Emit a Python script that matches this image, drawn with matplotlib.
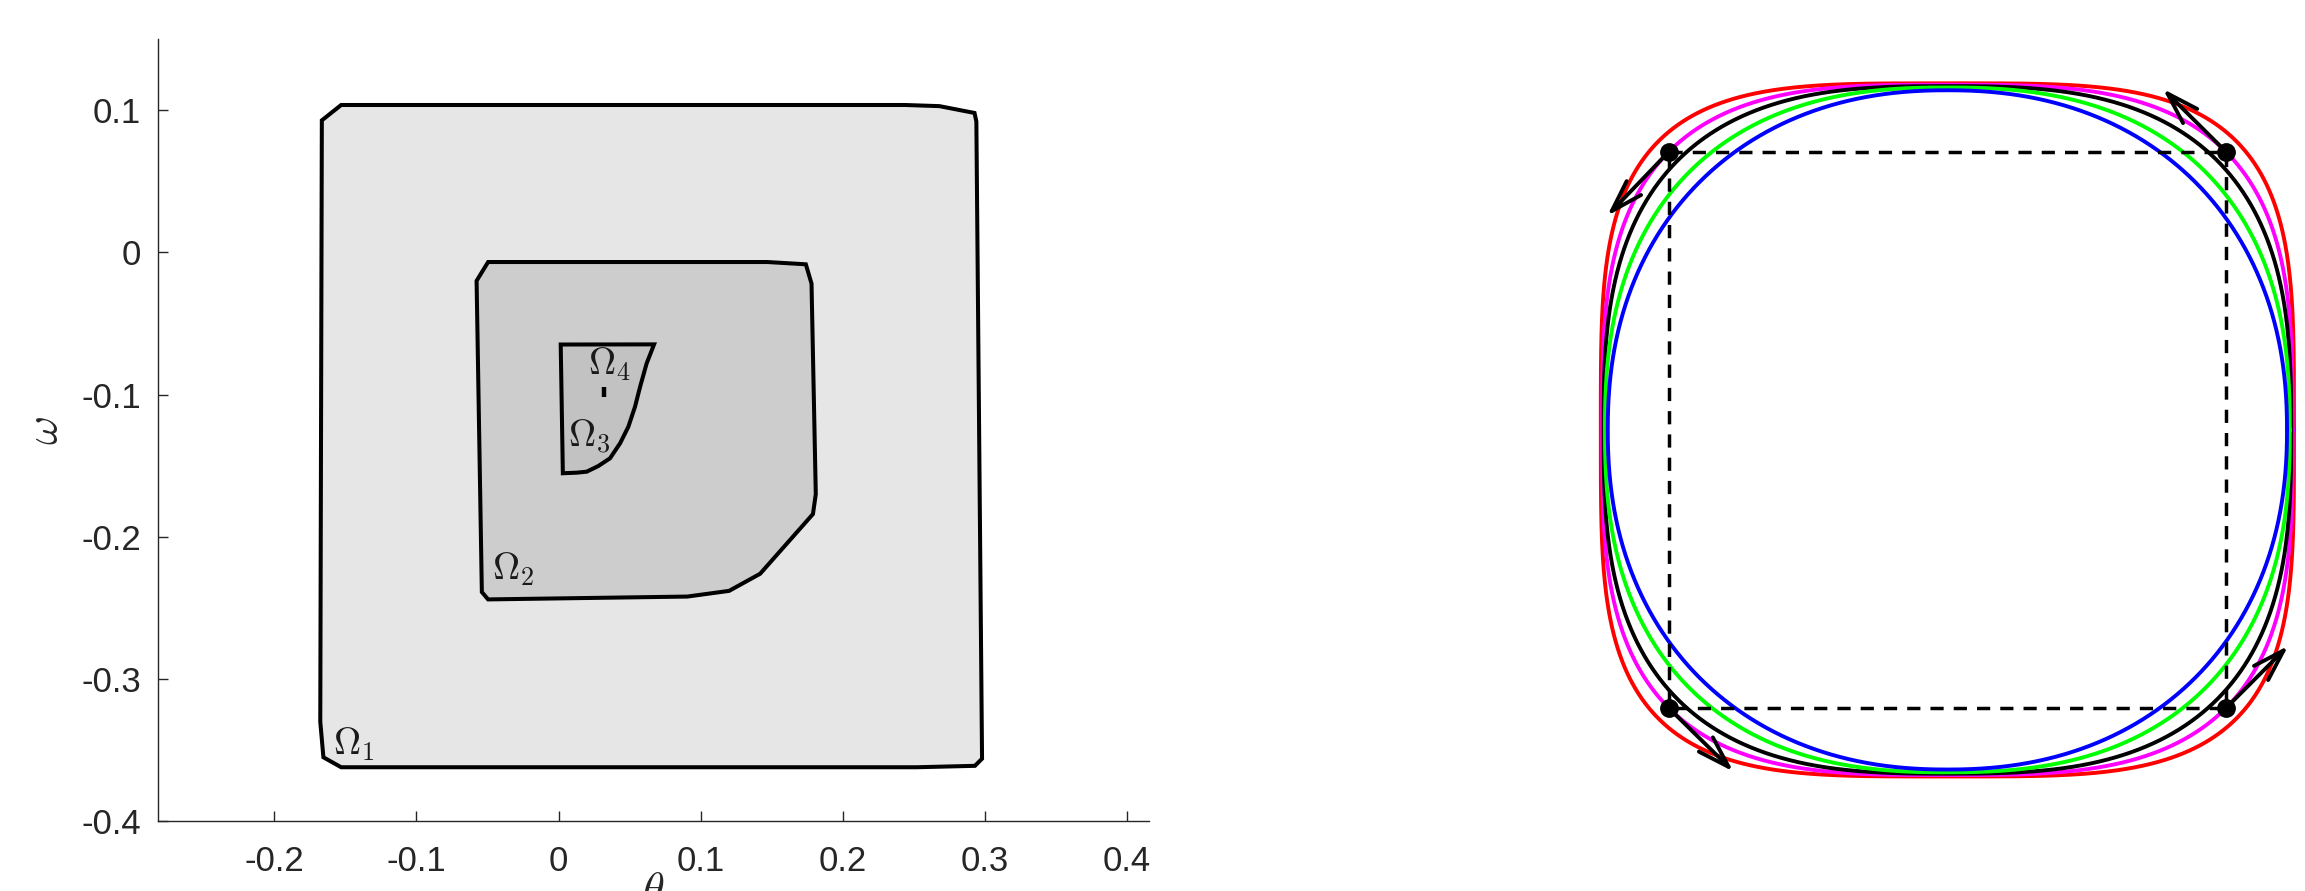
import numpy as np
import matplotlib
matplotlib.use('Agg')
import matplotlib.pyplot as plt
from matplotlib.patches import Polygon

plt.rcParams['font.family'] = ['Liberation Sans', 'DejaVu Sans']
plt.rcParams['mathtext.fontset'] = 'cm'
plt.rcParams['axes.unicode_minus'] = False

# ---- left panel: nested regions in the (theta, omega) plane ----
omega1_theta = [-0.1666, -0.153, 0.244, 0.268, 0.2927, 0.294, 0.298, 0.293, 0.252, -0.153, -0.1655, -0.1677]
omega1_omega = [0.0928, 0.1036, 0.1036, 0.1028, 0.098, 0.092, -0.356, -0.361, -0.362, -0.362, -0.355, -0.33]

omega2_theta = [-0.0496, 0.147, 0.174, 0.178, 0.181, 0.179, 0.1418, 0.120, 0.0906, -0.0496, -0.054, -0.0577]
omega2_omega = [-0.0068, -0.0068, -0.0084, -0.022, -0.17, -0.184, -0.226, -0.238, -0.242, -0.244, -0.2388, -0.02]

omega3_theta = [0.0015, 0.0672, 0.062, 0.0574, 0.0538, 0.0491, 0.0433, 0.0362, 0.028, 0.0198, 0.0128, 0.003]
omega3_omega = [-0.0648, -0.0647, -0.078, -0.0944, -0.1085, -0.1226, -0.1342, -0.1448, -0.1502, -0.1542, -0.1549, -0.1553]

omega4_theta = [0.0318, 0.0318]
omega4_omega = [-0.0948, -0.1018]

region_labels = [r'$\Omega_1$', r'$\Omega_2$', r'$\Omega_3$', r'$\Omega_4$']
label_theta = [-0.1587, -0.0468, 0.0067, 0.0208]
label_omega = [-0.353, -0.230, -0.137, -0.0862]

xticks = [-0.2, -0.1, 0, 0.1, 0.2, 0.3, 0.4]
xticklabels = ['-0.2', '-0.1', '0', '0.1', '0.2', '0.3', '0.4']
yticks = [-0.4, -0.3, -0.2, -0.1, 0, 0.1]
yticklabels = ['-0.4', '-0.3', '-0.2', '-0.1', '0', '0.1']

# ---- right panel: level curves around a square ----
square_x = [-1, 1, 1, -1, -1]
square_y = [1, 1, -1, -1, 1]
curve_colors = ['#ff0000', '#ff00ff', '#000000', '#00ff00', '#0000ff']
curve_exponent = [3.8, 3.22, 2.85, 2.45, 2.2]
curve_radius = [1.245, 1.24, 1.235, 1.23, 1.22]
corner_x = [-1, 1, -1, 1]
corner_y = [1, 1, -1, -1]
arrow_dx = [-0.222, -0.226, 0.231, 0.2245]
arrow_dy = [-0.231, 0.225, -0.227, 0.2245]

axis_col = '#262626'

fig = plt.figure(figsize=(23.05, 8.91), dpi=100)

ax = fig.add_axes([0.06842, 0.07823, 0.43007, 0.87800])
ax.add_patch(Polygon(np.column_stack([omega1_theta, omega1_omega]), closed=True,
                     facecolor='#e6e6e6', edgecolor='black', lw=2.9))
ax.add_patch(Polygon(np.column_stack([omega2_theta, omega2_omega]), closed=True,
                     facecolor='#cdcdcd', edgecolor='black', lw=2.9))
ax.add_patch(Polygon(np.column_stack([omega3_theta, omega3_omega]), closed=True,
                     facecolor='#c2c2c2', edgecolor='black', lw=2.9))
ax.plot(omega4_theta, omega4_omega, color='black', lw=3.2, solid_capstyle='butt')

for lab, tx, ty in zip(region_labels, label_theta, label_omega):
    ax.text(tx, ty, lab, fontsize=27, ha='left', va='baseline', color='#1a1a1a')

ax.set_xlim(-0.2821, 0.4155)
ax.set_ylim(-0.4, 0.15)
ax.set_xticks(xticks)
ax.set_xticklabels(xticklabels)
ax.set_yticks(yticks)
ax.set_yticklabels(yticklabels)
for s in ['top', 'right']:
    ax.spines[s].set_visible(False)
for s in ['left', 'bottom']:
    ax.spines[s].set_color(axis_col)
    ax.spines[s].set_linewidth(1.0)
ax.tick_params(axis='both', direction='in', length=7.5, width=1.0, colors=axis_col,
               labelsize=25)
ax.tick_params(axis='x', pad=17)
ax.tick_params(axis='y', pad=12)
ax.set_xlabel(r'$\theta$', fontsize=32, color=axis_col)
ax.xaxis.set_label_coords(0.5, -0.064)
ax.set_ylabel(r'$\omega$', fontsize=32, color=axis_col)
ax.yaxis.set_label_coords(-0.0925, 0.5)

# right panel
ax2 = fig.add_axes([0.68785, 0.11134, 0.31401, 0.81235])
t = np.linspace(0, 2 * np.pi, 1441)
for col, p, r in zip(curve_colors, curve_exponent, curve_radius):
    cx = r * np.sign(np.cos(t)) * np.abs(np.cos(t)) ** (2.0 / p)
    cy = r * np.sign(np.sin(t)) * np.abs(np.sin(t)) ** (2.0 / p)
    ax2.plot(cx, cy, color=col, lw=2.8)
ax2.plot(square_x, square_y, color='black', lw=2.5, linestyle=(0, (3.8, 2.9)))
ax2.plot(corner_x, corner_y, 'o', color='black', markersize=12.5)
for x0, y0, dx, dy in zip(corner_x, corner_y, arrow_dx, arrow_dy):
    ax2.annotate('', xy=(x0 + dx, y0 + dy), xytext=(x0, y0),
                 arrowprops=dict(arrowstyle='->,head_length=1.15,head_width=0.36',
                                 color='black', lw=2.8, mutation_scale=20,
                                 shrinkA=0, shrinkB=0))
ax2.set_xlim(-1.3, 1.3)
ax2.set_ylim(-1.3, 1.3)
ax2.axis('off')

fig.savefig('out.png', dpi=100)
